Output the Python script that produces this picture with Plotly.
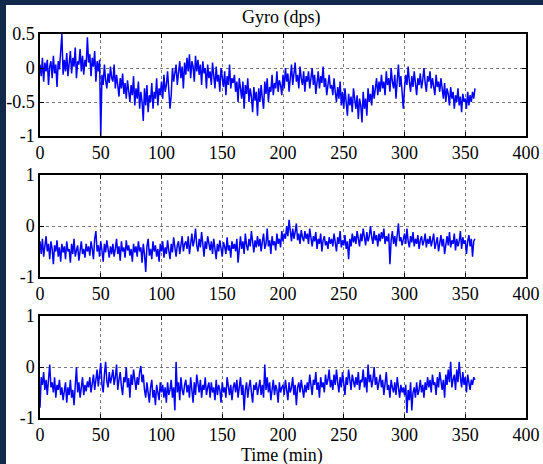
import plotly.graph_objects as go

# Gyro readings (dps), one sample per minute
g1 = [
    0.05, -0.12, 0.15, -0.2, 0.08, -0.05, 0.12, -0.25, 0.02, 0.1, -0.15, 0.18, -0.08, 0.05, -0.28, 0.1, -0.02, 0.2, 0.5, -0.1,
    0.12, -0.05, 0.22, -0.12, 0.08, 0.25, -0.08, 0.15, 0.02, 0.3, -0.15, 0.1, 0.05, 0.28, -0.05, 0.18, -0.1, 0.12, 0.02, 0.45,
    0.08, 0.2, -0.12, 0.15, 0.02, 0.25, -0.2, 0.1, -0.05, 0.12, -1.0, -0.1, -0.25, 0.05, -0.18, -0.3, -0.08, -0.22, 0.02, -0.15,
    -0.2, 0.05, -0.3, -0.1, -0.25, -0.42, -0.15, -0.3, -0.08, -0.38, -0.22, -0.45, -0.18, -0.35, -0.5, -0.25, -0.4, -0.12, -0.55, -0.3,
    -0.45, -0.2, -0.6, -0.35, -0.5, -0.78, -0.3, -0.55, -0.25, -0.65, -0.4, -0.5, -0.22, -0.6, -0.35, -0.45, -0.15, -0.55, -0.3, -0.4,
    -0.2, -0.45, -0.1, -0.35, -0.25, -0.05, -0.3, -0.6, -0.4, 0.0, -0.2, -0.1, 0.05, -0.25, -0.05, 0.1, -0.15, 0.02, -0.3, 0.08,
    -0.1, 0.15, -0.05, 0.2, -0.15, 0.1, 0.02, -0.2, 0.18, -0.05, 0.12, -0.1, 0.05, -0.25, 0.1, -0.08, 0.0, -0.3, 0.05, -0.15,
    -0.05, -0.25, 0.08, -0.15, -0.3, 0.02, -0.2, -0.1, -0.35, 0.0, -0.18, -0.28, -0.05, -0.4, -0.12, -0.25, 0.05, -0.3, -0.15, -0.22,
    -0.1, -0.35, -0.2, -0.5, -0.15, -0.3, -0.45, -0.2, -0.6, -0.25, -0.38, -0.15, -0.5, -0.3, -0.42, -0.65, -0.28, -0.48, -0.35, -0.7,
    -0.3, -0.5, -0.25, -0.45, -0.6, -0.2, -0.38, -0.15, -0.5, -0.28, -0.35, -0.1, -0.4, -0.22, -0.3, -0.05, -0.35, -0.18, -0.25, -0.4,
    -0.1, -0.3, 0.0, -0.2, -0.08, -0.35, -0.12, 0.05, -0.25, -0.05, 0.08, -0.2, -0.1, -0.3, 0.02, -0.15, -0.25, -0.05, -0.35, -0.12,
    -0.2, -0.05, -0.3, -0.15, 0.0, -0.25, -0.1, -0.38, -0.18, -0.05, -0.3, -0.12, -0.22, 0.02, -0.28, -0.15, -0.4, -0.2, -0.1, -0.3,
    -0.25, -0.4, -0.15, -0.35, -0.5, -0.28, -0.45, -0.2, -0.55, -0.35, -0.6, -0.3, -0.5, -0.7, -0.38, -0.55, -0.42, -0.65, -0.3, -0.5,
    -0.6, -0.4, -0.75, -0.45, -0.55, -0.8, -0.35, -0.6, -0.45, -0.7, -0.3, -0.5, -0.38, -0.55, -0.25, -0.45, -0.3, -0.15, -0.4, -0.2,
    -0.35, -0.1, -0.3, -0.2, -0.4, -0.05, -0.25, -0.15, -0.35, 0.0, -0.2, -0.3, -0.1, -0.45, -0.18, 0.05, -0.28, -0.12, -0.35, -0.6,
    -0.3, -0.1, -0.25, 0.02, -0.2, -0.35, -0.12, -0.28, -0.05, -0.2, -0.4, -0.15, -0.25, -0.08, -0.3, -0.18, 0.0, -0.22, -0.35, -0.12,
    -0.2, -0.05, -0.3, -0.15, -0.25, -0.4, -0.1, -0.28, -0.2, -0.35, -0.15, -0.3, -0.45, -0.22, -0.5, -0.3, -0.38, -0.55, -0.28, -0.45,
    -0.35, -0.6, -0.4, -0.5, -0.3, -0.55, -0.42, -0.65, -0.38, -0.5, -0.45, -0.6, -0.35, -0.55, -0.4, -0.5, -0.35, -0.45, -0.3,
]

g2 = [
    -0.3, -0.55, -0.25, -0.6, -0.4, -0.2, -0.5, -0.35, -0.65, -0.3, -0.45, -0.75, -0.38, -0.5, -0.28, -0.6, -0.42, -0.7, -0.35, -0.52,
    -0.4, -0.65, -0.3, -0.5, -0.45, -0.72, -0.35, -0.55, -0.25, -0.6, -0.48, -0.38, -0.68, -0.42, -0.3, -0.55, -0.45, -0.62, -0.35, -0.5,
    -0.4, -0.58, -0.3, -0.45, -0.65, -0.25, -0.1, -0.5, -0.38, -0.6, -0.3, -0.48, -0.7, -0.35, -0.52, -0.28, -0.45, -0.62, -0.4, -0.55,
    -0.35, -0.6, -0.45, -0.25, -0.55, -0.4, -0.68, -0.3, -0.5, -0.42, -0.62, -0.28, -0.48, -0.38, -0.58, -0.45, -0.7, -0.35, -0.52, -0.4,
    -0.6, -0.3, -0.5, -0.42, -0.72, -0.35, -0.55, -0.9, -0.4, -0.25, -0.58, -0.45, -0.65, -0.3, -0.5, -0.38, -0.6, -0.45, -0.7, -0.35,
    -0.5, -0.3, -0.62, -0.42, -0.55, -0.28, -0.48, -0.65, -0.35, -0.52, -0.22, -0.45, -0.6, -0.38, -0.3, -0.55, -0.4, -0.2, -0.5, -0.35,
    -0.3, -0.45, -0.2, -0.55, -0.35, -0.15, -0.4, -0.28, -0.05, -0.38, -0.5, -0.25, -0.42, -0.12, -0.35, -0.6, -0.3, -0.45, -0.2, -0.38,
    -0.48, -0.3, -0.55, -0.25, -0.42, -0.65, -0.35, -0.5, -0.28, -0.45, -0.6, -0.32, -0.4, -0.55, -0.22, -0.48, -0.38, -0.62, -0.3, -0.45,
    -0.35, -0.5, -0.25, -0.72, -0.4, -0.2, -0.45, -0.3, -0.55, -0.15, -0.38, -0.48, -0.25, -0.4, -0.1, -0.35, -0.52, -0.28, -0.42, -0.2,
    -0.4, -0.25, -0.5, -0.3, -0.15, -0.45, -0.35, -0.05, -0.4, -0.28, -0.55, -0.2, -0.38, -0.3, -0.48, -0.15, -0.35, -0.25, -0.42, -0.1,
    -0.3, -0.15, -0.25, 0.0, -0.2, 0.12, -0.18, -0.3, -0.05, -0.25, -0.12, 0.05, -0.28, -0.15, -0.35, -0.08, -0.22, -0.3, -0.1, -0.25,
    -0.15, -0.35, -0.05, -0.28, -0.4, -0.2, -0.3, -0.12, -0.45, -0.25, -0.35, -0.15, -0.5, -0.28, -0.2, -0.38, -0.3, -0.45, -0.22, -0.35,
    -0.25, -0.4, -0.15, -0.32, -0.5, -0.22, -0.35, -0.1, -0.42, -0.28, -0.38, -0.18, -0.45, -0.3, -0.65, -0.25, -0.4, -0.15, -0.32, -0.2,
    -0.35, -0.1, -0.28, -0.4, -0.15, -0.3, -0.05, -0.25, -0.38, -0.12, -0.3, -0.2, 0.0, -0.22, -0.35, -0.1, -0.28, -0.18, -0.4, -0.15,
    -0.3, -0.12, -0.25, -0.05, -0.35, -0.2, -0.3, -0.15, -0.75, -0.28, -0.1, -0.35, -0.2, -0.4, -0.15, 0.05, -0.3, -0.22, -0.38, -0.25,
    -0.15, -0.35, -0.05, -0.3, -0.42, -0.2, -0.32, -0.12, -0.4, -0.25, -0.35, -0.18, -0.45, -0.28, -0.2, -0.38, -0.3, -0.15, -0.42, -0.25,
    -0.35, -0.2, -0.4, -0.28, -0.15, -0.45, -0.3, -0.22, -0.5, -0.32, -0.18, -0.4, -0.25, -0.55, -0.3, -0.2, -0.38, -0.12, -0.42, -0.28,
    -0.35, -0.15, -0.48, -0.25, -0.4, -0.3, -0.1, -0.45, -0.22, -0.35, -0.28, -0.55, -0.3, -0.18, -0.4, -0.25, -0.6, -0.3, -0.25,
]

g3 = [
    -0.8, -0.2, -0.35, -0.1, -0.45, -0.25, -0.55, -0.15, 0.05, -0.4, -0.3, -0.5, -0.2, -0.6, -0.35, -0.45, -0.25, -0.55, -0.4, -0.65,
    -0.5, -0.3, -0.7, -0.4, -0.55, -0.25, -0.6, -0.45, -0.75, -0.35, 0.0, -0.5, -0.3, -0.6, -0.4, -0.2, -0.55, -0.35, -0.48, -0.28,
    -0.4, -0.2, -0.5, -0.3, -0.15, -0.45, -0.25, -0.05, -0.38, -0.2, 0.08, -0.35, -0.5, -0.15, 0.1, -0.28, -0.4, -0.1, -0.32, -0.2,
    -0.05, -0.35, -0.2, 0.05, -0.45, -0.25, -0.1, -0.38, -0.55, -0.2, -0.3, 0.0, -0.4, -0.22, -0.6, -0.15, -0.35, -0.05, -0.28, -0.45,
    -0.2, -0.35, -0.1, 0.02, -0.3, -0.15, -0.45, -0.6, -0.3, -0.55, -0.7, -0.4, -0.25, -0.6, -0.45, -0.75, -0.35, -0.5, -0.65, -0.3,
    -0.5, -0.35, -0.6, -0.4, -0.7, -0.3, -0.55, -0.45, -0.25, -0.6, -0.4, -0.85, 0.1, -0.5, -0.3, -0.65, -0.2, -0.45, -0.55, -0.35,
    -0.25, -0.5, -0.35, -0.6, -0.2, -0.45, -0.7, -0.3, -0.55, -0.15, -0.4, -0.5, -0.25, -0.6, -0.35, -0.45, -0.2, -0.55, -0.4, -0.3,
    -0.6, -0.3, -0.5, -0.4, -0.65, -0.25, -0.55, -0.35, -0.45, -0.7, -0.3, -0.5, -0.4, -0.6, -0.2, -0.45, -0.55, -0.35, -0.65, -0.4,
    -0.3, -0.5, -0.25, -0.6, -0.4, -0.2, -0.55, -0.35, -0.85, -0.45, -0.3, -0.6, -0.4, -0.25, -0.5, -0.7, -0.35, -0.45, -0.3, -0.55,
    -0.4, -0.25, -0.55, -0.35, -0.6, 0.05, -0.45, -0.2, -0.5, -0.3, -0.65, -0.4, -0.25, -0.55, -0.35, -0.45, -0.7, -0.3, -0.5, -0.4,
    -0.35, -0.55, -0.25, -0.45, -0.65, -0.3, -0.5, -0.4, -0.2, -0.55, -0.35, -0.75, -0.4, -0.3, -0.5, -0.25, -0.45, -0.6, -0.35, -0.5,
    -0.3, -0.45, -0.15, -0.4, -0.55, -0.25, -0.35, -0.1, -0.45, -0.3, -0.6, -0.2, -0.4, -0.3, -0.5, -0.15, -0.35, -0.25, -0.05, -0.4,
    -0.25, -0.45, -0.15, -0.35, -0.05, -0.3, -0.5, -0.2, -0.4, -0.1, -0.3, -0.55, -0.2, -0.35, -0.05, -0.25, -0.45, -0.15, -0.3, -0.4,
    -0.2, -0.35, -0.1, -0.45, -0.25, -0.3, -0.05, -0.4, -0.2, -0.5, 0.05, -0.3, -0.15, -0.4, -0.25, 0.0, -0.35, -0.2, -0.45, -0.3,
    -0.15, -0.4, -0.25, -0.55, -0.3, -0.1, -0.45, -0.35, -0.6, -0.25, -0.4, -0.5, -0.3, -0.55, -0.2, -0.45, -0.6, -0.35, -0.5, -0.4,
    -0.55, -0.35, -0.9, -0.45, -0.65, -0.3, -0.85, -0.5, -0.4, -0.6, -0.3, -0.55, -0.45, -0.25, -0.5, -0.35, -0.6, -0.3, -0.45, -0.2,
    -0.4, -0.25, -0.5, -0.15, -0.35, -0.3, -0.55, -0.2, -0.4, -0.1, -0.3, -0.45, -0.25, -0.6, -0.15, -0.35, -0.05, -0.3, 0.1, -0.4,
    -0.25, -0.15, -0.45, -0.05, -0.3, 0.1, -0.2, -0.4, -0.1, -0.35, -0.2, -0.5, -0.15, -0.3, -0.45, -0.25, -0.35, -0.2, -0.25,
]

time_min = list(range(len(g1)))

x_ticks = [0, 50, 100, 150, 200, 250, 300, 350, 400]
y1_ticks = [-1, -0.5, 0, 0.5]
y1_labels = ["-1", "-0.5", "0", "0.5"]
y23_ticks = [-1, 0, 1]
y23_labels = ["-1", "0", "1"]

FONT = "Liberation Serif, Times New Roman, serif"
W, H = 543, 464
L, R, T, B = 40, 17, 34, 46
ph = H - T - B
pw = W - L - R


def yfrac(py):
    return (H - B - py) / ph


def xfrac(px):
    return (px - L) / pw


fig = go.Figure()
for i, ser in enumerate([g1, g2, g3]):
    n = "" if i == 0 else str(i + 1)
    fig.add_trace(go.Scatter(x=time_min, y=ser, mode="lines",
                             line=dict(color="#0000ff", width=1.5),
                             xaxis="x" + n, yaxis="y" + n, showlegend=False))

domains = [(yfrac(136), 1.0), (yfrac(277), yfrac(175)), (0.0, yfrac(316))]
axcommon = dict(showline=True, mirror="ticks", linecolor="black", linewidth=1.5,
                ticks="inside", ticklen=4, tickcolor="black", tickwidth=1,
                showgrid=True, gridcolor="#7a7a7a", griddash="dot", gridwidth=1,
                zeroline=False, automargin=False,
                tickfont=dict(family=FONT, size=18, color="black"))
layout = dict(template="none", width=W, height=H, autosize=False,
              margin=dict(l=L, r=R, t=T, b=B, pad=0),
              paper_bgcolor="white", plot_bgcolor="white", showlegend=False)
for i in range(3):
    n = "" if i == 0 else str(i + 1)
    layout["xaxis" + n] = dict(axcommon, domain=[0, 1], range=[0, 400],
                               tickvals=x_ticks, ticktext=[str(v) for v in x_ticks],
                               anchor="y" + n)
    if i == 0:
        yt, yl, yr = y1_ticks, y1_labels, [-1, 0.5]
    else:
        yt, yl, yr = y23_ticks, y23_labels, [-1, 1]
    layout["yaxis" + n] = dict(axcommon, domain=list(domains[i]), range=yr,
                               tickvals=yt, ticktext=yl, anchor="x" + n)
fig.update_layout(**layout)

fig.add_annotation(text="Gyro (dps)", xref="paper", yref="paper",
                   x=xfrac(281), y=yfrac(17), xanchor="center", yanchor="middle",
                   showarrow=False, font=dict(family=FONT, size=18, color="black"))
fig.add_annotation(text="Time (min)", xref="paper", yref="paper",
                   x=xfrac(282), y=yfrac(455), xanchor="center", yanchor="middle",
                   showarrow=False, font=dict(family=FONT, size=18, color="black"))

navy = "#13294b"
fig.add_shape(type="rect", xref="paper", yref="paper", layer="above",
              x0=xfrac(0), x1=xfrac(6), y0=yfrac(H), y1=yfrac(0),
              fillcolor=navy, line=dict(width=0))
fig.add_shape(type="rect", xref="paper", yref="paper", layer="above",
              x0=xfrac(0), x1=xfrac(W), y0=yfrac(5), y1=yfrac(0),
              fillcolor=navy, line=dict(width=0))

fig.write_html("out.html")
